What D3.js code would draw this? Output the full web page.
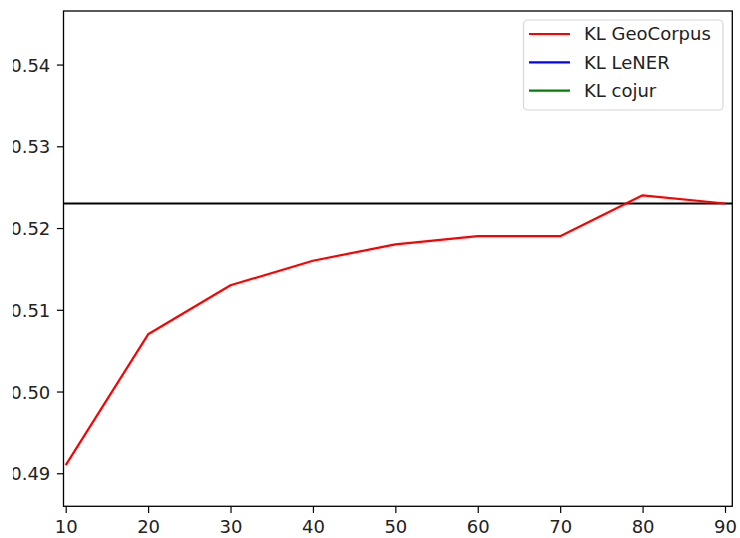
<!DOCTYPE html>
<html><head><meta charset="utf-8">
<script src="https://cdn.jsdelivr.net/npm/d3@7"></script>
<style>body{margin:0;background:#fff}svg{display:block}</style>
</head><body>
<script>
const xValues = [10, 20, 30, 40, 50, 60, 70, 80, 90];
const klGeoCorpus = [0.491, 0.507, 0.513, 0.516, 0.518, 0.519, 0.519, 0.524, 0.523];
const baselineValue = 0.523;
const seriesNames = ["KL GeoCorpus", "KL LeNER", "KL cojur"];
const seriesColors = ["#ff0000", "#0000ff", "#008000"];
const xTicks = [10, 20, 30, 40, 50, 60, 70, 80, 90];
const yTicks = [0.49, 0.50, 0.51, 0.52, 0.53, 0.54];

const W = 740, H = 538;
const L = 63.5, R = 732.3, T = 11, B = 506.3;
const fs = 18;
const font = "DejaVu Sans, sans-serif";

const svg = d3.select("body").append("svg").attr("width", W).attr("height", H);
svg.append("defs").append("clipPath").attr("id", "page")
  .append("rect").attr("x", 13).attr("y", 0).attr("width", W - 13).attr("height", H);
svg.append("defs").append("clipPath").attr("id", "plot")
  .append("rect").attr("x", L).attr("y", T).attr("width", R - L).attr("height", B - T);
const root = svg.append("g").attr("clip-path", "url(#page)");

const x = d3.scaleLinear().domain([9.733, 90.886]).range([L, R]);
const y = d3.scaleLinear().domain([0.485959, 0.546552]).range([B, T]);

const plot = root.append("g").attr("clip-path", "url(#plot)");
plot.append("line")
  .attr("x1", L).attr("x2", R)
  .attr("y1", y(baselineValue)).attr("y2", y(baselineValue))
  .attr("stroke", "#000").attr("stroke-width", 2.2);
plot.append("path")
  .datum(xValues.map((v, i) => [v, klGeoCorpus[i]]))
  .attr("d", d3.line().x(d => x(d[0])).y(d => y(d[1])))
  .attr("fill", "none").attr("stroke", seriesColors[0]).attr("stroke-width", 2.2)
  .attr("stroke-linejoin", "round");

// axes
const xAxis = root.append("g").attr("transform", `translate(0,${B})`)
  .call(d3.axisBottom(x).tickValues(xTicks).tickFormat(d3.format("d")).tickSize(6.6).tickPadding(6.6));
const yAxis = root.append("g").attr("transform", `translate(${L},0)`)
  .call(d3.axisLeft(y).tickValues(yTicks).tickFormat(d3.format(".2f")).tickSize(6.6).tickPadding(6.6));
[xAxis, yAxis].forEach(a => {
  a.select(".domain").remove();
  a.selectAll(".tick line").attr("stroke", "#000").attr("stroke-width", 1.2);
  a.selectAll(".tick text").attr("fill", "#222").attr("font-family", font).attr("font-size", fs);
});
xAxis.selectAll(".tick text").attr("dy", "0.73em");
yAxis.selectAll(".tick text").attr("dy", "0.36em");

// frame
root.append("rect").attr("x", L).attr("y", T).attr("width", R - L).attr("height", B - T)
  .attr("fill", "none").attr("stroke", "#000").attr("stroke-width", 1.3);

// legend
const lg = root.append("g");
lg.append("rect").attr("x", 523.5).attr("y", 20).attr("width", 199.5).attr("height", 90)
  .attr("rx", 4).attr("fill", "#fff").attr("fill-opacity", 0.8)
  .attr("stroke", "#d6d6d6").attr("stroke-width", 1.2);
const rowY = [34, 62.3, 90.7];
seriesNames.forEach((name, i) => {
  lg.append("line").attr("x1", 529).attr("x2", 570).attr("y1", rowY[i]).attr("y2", rowY[i])
    .attr("stroke", seriesColors[i]).attr("stroke-width", 2.2);
  lg.append("text").attr("x", 584).attr("y", rowY[i]).attr("dy", "0.36em")
    .attr("font-family", font).attr("font-size", fs).attr("fill", "#222").text(name);
});
</script>
</body></html>
